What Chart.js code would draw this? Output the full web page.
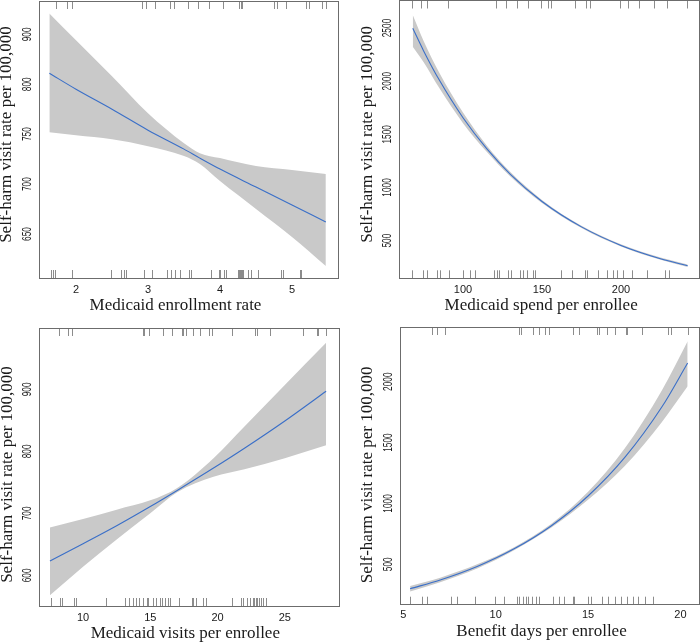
<!DOCTYPE html>
<html><head><meta charset="utf-8">
<script src="https://cdn.jsdelivr.net/npm/chart.js@4/dist/chart.umd.min.js"></script>
<style>
html,body{margin:0;padding:0;background:#fff;}
#wrap{position:relative;width:700px;height:644px;overflow:hidden;}
canvas{position:absolute;}
</style></head>
<body><div id="wrap">
<canvas id="c1" width="350" height="322" style="left:0;top:0"></canvas>
<canvas id="c2" width="350" height="322" style="left:350px;top:0"></canvas>
<canvas id="c3" width="350" height="322" style="left:0;top:322px"></canvas>
<canvas id="c4" width="350" height="322" style="left:350px;top:322px"></canvas>
</div>
<script>
// ---------- Panel 1: Medicaid enrollment rate ----------
const p1X      = [1.63, 2.0, 2.5, 3.0, 3.5, 3.72, 4.0, 4.5, 5.0, 5.47];
const p1Fit    = [811, 795, 775, 754, 735, 726, 715, 697, 679, 662];
const p1Upper  = [871, 844, 808, 771, 741, 731, 726, 718, 714, 710];
const p1Lower  = [752, 749, 745, 738, 728, 720, 703, 675, 647, 618];
const p1RugTop = [1.72,1.88,1.95,2.92,2.97,3.10,3.31,3.36,3.55,3.69,3.85,4.04,4.27,4.29,4.30,4.75,4.79,4.91,5.19,5.24,5.41,5.47];
const p1RugBottom = [1.65,1.68,1.71,1.95,2.49,2.63,2.66,2.70,2.94,3.06,3.26,3.32,3.37,3.44,3.57,3.60,3.87,3.98,4.00,4.05,4.09,4.25,4.27,4.28,4.29,4.30,4.32,4.39,4.43,4.53,4.85,4.88,5.11,5.13];
const p1XTicks = [2, 3, 4, 5];
const p1YTicks = [650, 700, 750, 800, 850];
const p1YTickLabels = ['650', '700', '750', '800', '900'];

// ---------- Panel 2: Medicaid spend per enrollee ----------
const p2X      = [68.2, 75, 85, 100, 115, 130, 150, 175, 200, 225, 242.2];
const p2Fit    = [2497, 2287, 2010, 1656, 1365, 1124, 868, 629, 455, 330, 264];
const p2Upper  = [2622, 2380, 2080, 1705, 1395, 1145, 883, 640, 465, 340, 276];
const p2Lower  = [2324, 2180, 1935, 1605, 1335, 1103, 853, 618, 445, 320, 252];
const p2RugTop = [68.0,73.4,77.5,90.5,120.8,127.5,134.3,141.1,149.2,153.8,155.4,170.8,177.6,180.3,199.2,204.6,211.4,220.8,229.0,242.0];
const p2RugBottom = [68.0,74.5,77.4,83.7,85.4,91.3,100.2,104.4,107.6,119.6,121.3,123.0,128.7,130.4,136.1,138.2,140.7,144.1,145.6,161.8,168.8,177.2,178.3,185.6,190.9,195.1,197.3,201.1,206.8,216.3,227.8,230.6];
const p2XTicks = [100, 150, 200];
const p2YTicks = [500, 1000, 1500, 2000, 2500];
const p2YTickLabels = ['500', '1000', '1500', '2000', '2500'];

// ---------- Panel 3: Medicaid visits per enrollee ----------
const p3X      = [7.54, 10, 12.5, 15, 17, 19.7, 22, 25, 28.07];
const p3Fit    = [623, 651, 680, 711, 737, 773, 805, 849, 897];
const p3Upper  = [677, 691, 706, 721, 741, 789, 840, 907, 975];
const p3Lower  = [568, 614, 658, 700, 734, 759, 771, 789, 810];
const p3RugTop = [8.24,8.86,9.16,14.44,14.56,14.93,15.92,16.59,17.34,17.46,17.63,18.15,18.70,19.39,19.57,21.05,22.79,22.91,23.90,26.33,27.37,27.49,28.07];
const p3RugBottom = [7.60,8.29,8.41,9.35,9.48,11.71,13.12,13.42,13.69,13.94,14.18,14.48,14.73,14.85,15.18,15.43,15.72,15.85,16.10,16.34,16.47,17.16,18.08,18.20,18.38,18.90,19.12,21.05,21.72,21.92,22.17,22.41,22.62,22.71,22.84,22.91,23.06,23.23,23.40,23.58];
const p3XTicks = [10, 15, 20, 25];
const p3YTicks = [600, 700, 800, 900];
const p3YTickLabels = ['600', '700', '800', '900'];

// ---------- Panel 4: Benefit days per enrollee ----------
const p4X      = [5.37, 7, 9, 11, 13, 15, 17, 19, 20.39];
const p4Fit    = [299, 371, 482, 627, 815, 1061, 1380, 1794, 2154];
const p4Upper  = [322, 390, 500, 640, 830, 1095, 1455, 1930, 2332];
const p4Lower  = [276, 352, 465, 615, 800, 1030, 1310, 1670, 1962];
const p4RugTop = [6.54,6.84,7.26,11.26,11.36,12.0,12.35,12.67,12.90,14.17,14.53,15.47,15.61,16.01,16.46,17.05,17.12,17.90,19.34,19.47,20.39];
const p4RugBottom = [5.37,6.0,6.27,7.57,7.92,8.88,9.96,10.45,11.14,11.28,11.46,11.63,11.77,11.95,12.18,12.36,13.12,13.44,13.71,14.17,14.24,15.01,15.16,15.74,16.06,16.46,16.78,17.09,17.45,17.72,18.08,18.53];
const p4XTicks = [5, 10, 15, 20];
const p4YTicks = [500, 1000, 1500, 2000];
const p4YTickLabels = ['500', '1000', '1500', '2000'];

const yTitle = 'Self-harm visit rate per 100,000';
const xTitles = ['Medicaid enrollment rate', 'Medicaid spend per enrollee', 'Medicaid visits per enrollee', 'Benefit days per enrollee'];

const BAND = '#c9c9c9', LINE = '#3a6fc8', RUG = '#8c8c8c', BOX = '#6c6c6c', TXT = '#1a1a1a';

const panelPlugin = {
  id: 'panel',
  afterDatasetsDraw(chart) {
    const o = chart.options.plugins.panel;
    const {ctx, chartArea: a} = chart;
    const xs = chart.scales.x, ys = chart.scales.y;
    ctx.save();
    // rugs
    ctx.strokeStyle = RUG; ctx.lineWidth = 1;
    ctx.beginPath();
    o.rugTop.forEach(v => { const p = Math.round(xs.getPixelForValue(v)) + 0.5; ctx.moveTo(p, a.top); ctx.lineTo(p, a.top + 8); });
    o.rugBottom.forEach(v => { const p = Math.round(xs.getPixelForValue(v)) + 0.5; ctx.moveTo(p, a.bottom - 8); ctx.lineTo(p, a.bottom); });
    ctx.stroke();
    // box
    ctx.strokeStyle = BOX;
    const l = Math.floor(a.left) + 0.5, t = Math.floor(a.top) + 0.5, r = Math.floor(a.right) + 0.5, b = Math.floor(a.bottom) + 0.5;
    ctx.strokeRect(l, t, r - l, b - t);
    // x tick labels
    ctx.fillStyle = TXT;
    ctx.font = '11px "Liberation Sans", Arial, sans-serif';
    ctx.textAlign = 'center'; ctx.textBaseline = 'middle';
    o.xTicks.forEach(v => ctx.fillText(String(v), xs.getPixelForValue(v), a.bottom + o.xTickGap));
    // y tick labels (rotated)
    o.yTicks.forEach((v, i) => {
      ctx.save();
      ctx.translate(a.left - 12, ys.getPixelForValue(v));
      ctx.rotate(-Math.PI / 2);
      ctx.scale(0.64, 1);
      ctx.font = '13px "Liberation Sans", Arial, sans-serif';
      ctx.fillText(o.yLabels[i], 0, 0);
      ctx.restore();
    });
    // titles
    ctx.font = '17px "Liberation Serif", "Times New Roman", serif';
    ctx.textBaseline = 'alphabetic';
    ctx.fillText(o.xTitle, (a.left + a.right) / 2 + o.xTitleShift, a.bottom + 31.5);
    ctx.save();
    ctx.translate(a.left - 32, (a.top + a.bottom) / 2 + o.yTitleShift);
    ctx.rotate(-Math.PI / 2);
    ctx.textBaseline = 'middle';
    ctx.fillText(yTitle, 0, 0);
    ctx.restore();
    ctx.restore();
  }
};

function pts(xa, ya) { return xa.map((x, i) => ({x: x, y: ya[i]})); }

function makePanel(id, d) {
  new Chart(document.getElementById(id), {
    type: 'line',
    data: {
      datasets: [
        {data: pts(d.x, d.fit), borderColor: LINE, borderWidth: 1.1, pointRadius: 0, fill: false, cubicInterpolationMode: 'monotone', order: 0},
        {data: pts(d.x, d.upper), borderWidth: 0, borderColor: 'rgba(0,0,0,0)', backgroundColor: BAND, pointRadius: 0, fill: '+1', cubicInterpolationMode: 'monotone', order: 1},
        {data: pts(d.x, d.lower), borderWidth: 0, borderColor: 'rgba(0,0,0,0)', pointRadius: 0, fill: false, cubicInterpolationMode: 'monotone', order: 2}
      ]
    },
    options: {
      responsive: false, animation: false, devicePixelRatio: 1,
      layout: {padding: d.pad},
      scales: {
        x: {type: 'linear', display: false, min: d.xRange[0], max: d.xRange[1]},
        y: {type: 'linear', display: false, min: d.yRange[0], max: d.yRange[1]}
      },
      plugins: {
        legend: {display: false}, tooltip: {enabled: false},
        panel: {rugTop: d.rugTop, rugBottom: d.rugBottom, xTicks: d.xTicks, yTicks: d.yTicks, yLabels: d.yLabels,
                xTitle: d.xTitle, xTitleShift: d.xTitleShift, yTitleShift: d.yTitleShift, xTickGap: d.xTickGap}
      }
    },
    plugins: [panelPlugin]
  });
}

makePanel('c1', {x: p1X, fit: p1Fit, upper: p1Upper, lower: p1Lower, rugTop: p1RugTop, rugBottom: p1RugBottom,
  xTicks: p1XTicks, yTicks: p1YTicks, yLabels: p1YTickLabels, xTitle: xTitles[0],
  pad: {left: 39, top: 1, right: 12, bottom: 44}, xRange: [1.486, 5.639], yRange: [605.9, 883.4],
  xTitleShift: -13, yTitleShift: -5, xTickGap: 11.5});
makePanel('c2', {x: p2X, fit: p2Fit, upper: p2Upper, lower: p2Lower, rugTop: p2RugTop, rugBottom: p2RugBottom,
  xTicks: p2XTicks, yTicks: p2YTicks, yLabels: p2YTickLabels, xTitle: xTitles[1],
  pad: {left: 49.3, top: 0.5, right: 1, bottom: 43.7}, xRange: [59.68, 249.37], yRange: [145.4, 2758.7],
  xTitleShift: -8, yTitleShift: -5, xTickGap: 11.5});
makePanel('c3', {x: p3X, fit: p3Fit, upper: p3Upper, lower: p3Lower, rugTop: p3RugTop, rugBottom: p3RugBottom,
  xTicks: p3XTicks, yTicks: p3YTicks, yLabels: p3YTickLabels, xTitle: xTitles[2],
  pad: {left: 39.3, top: 6, right: 10.7, bottom: 38}, xRange: [6.749, 29.05], yRange: [550.6, 998.9],
  xTitleShift: -4, yTitleShift: 7.5, xTickGap: 11.5});
makePanel('c4', {x: p4X, fit: p4Fit, upper: p4Upper, lower: p4Lower, rugTop: p4RugTop, rugBottom: p4RugBottom,
  xTicks: p4XTicks, yTicks: p4YTicks, yLabels: p4YTickLabels, xTitle: xTitles[3],
  pad: {left: 50, top: 5, right: 1, bottom: 39.3}, xRange: [4.824, 21.004], yRange: [167.8, 2449.7],
  xTitleShift: -8, yTitleShift: 9, xTickGap: 10.5});
</script>
</body></html>
